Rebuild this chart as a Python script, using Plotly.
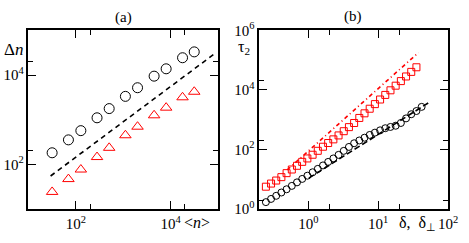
import plotly.graph_objects as go

W, H = 469, 243

# ---------------- panel (a) data ----------------
a_n = [31.7, 70, 128, 281, 507, 1114, 2010, 4500, 8070, 17900, 31600]
a_circ = [182, 354, 569, 1104, 1775, 3333, 5200, 9440, 13800, 24400, 33000]
a_tri = [24.2, 46.9, 76.7, 146, 235, 449, 698, 1256, 1862, 3176, 4226]
a_fit_x = [29.4, 86700]
a_fit_y = [55, 30500]

# ---------------- panel (b) data ----------------
b_delta = [0.248, 0.294, 0.348, 0.413, 0.490, 0.582, 0.690, 0.819, 0.971, 1.153,
           1.367, 1.622, 1.924, 2.283, 2.708, 3.213, 3.811, 4.521, 5.363, 6.362,
           7.547, 8.953, 10.62, 12.60, 14.95, 17.73, 21.04, 24.96, 29.61, 35.12, 41.67]
b_circ = [1.71, 2.19, 2.79, 3.60, 4.62, 6.01, 7.88, 10.3, 13.2, 17.2,
          22.4, 29.2, 38.3, 50.1, 66.0, 90.0, 122, 162, 201, 249,
          308, 368, 440, 518, 572, 628, 777, 1109, 1528, 1959, 2700]
b_sq = [5.64, 7.18, 9.08, 11.8, 16.1, 21.3, 28.4, 38.5, 50.1, 66.7,
        90.5, 124, 165, 219, 297, 412, 564, 777, 1148, 1640,
        2340, 3340, 4770, 6810, 9720, 13900, 19800, 28300, 40400, 57700]
b_red_x = [0.50, 37.6]
b_red_y = [20.6, 180000]
b_blk_x = [1.02, 56.3]
b_blk_y = [11.0, 4140]

a_xticks = [100, 10000]
a_xtext = ["10<sup>2</sup>", "10<sup>4</sup>"]
a_yticks = [100, 10000]
a_ytext = ["10<sup>2</sup>", "10<sup>4</sup>"]
b_xticks = [1, 10, 100]
b_xtext = ["10<sup>0</sup>", "10<sup>1</sup>", "10<sup>2</sup>"]
b_yticks = [1, 100, 1e4, 1e6]
b_ytext = ["10<sup>0</sup>", "10<sup>2</sup>", "10<sup>4</sup>", "10<sup>6</sup>"]

RED = "#ff0000"
FONT = "Liberation Serif, Times New Roman, serif"

fig = go.Figure()

fig.add_trace(go.Scatter(x=a_fit_x, y=a_fit_y, mode="lines",
                         line=dict(color="black", width=1.6, dash="5px,4px"),
                         xaxis="x", yaxis="y", showlegend=False))
fig.add_trace(go.Scatter(x=a_n, y=a_circ, mode="markers",
                         marker=dict(symbol="circle-open", size=10, color="black", line=dict(width=1)),
                         xaxis="x", yaxis="y", showlegend=False))
fig.add_trace(go.Scatter(x=a_n, y=a_tri, mode="markers",
                         marker=dict(symbol="triangle-up-open", size=10, color=RED, line=dict(width=1)),
                         xaxis="x", yaxis="y", showlegend=False))

fig.add_trace(go.Scatter(x=b_red_x, y=b_red_y, mode="lines",
                         line=dict(color=RED, width=1.6, dash="4px,3px,1px,3px"),
                         xaxis="x2", yaxis="y2", showlegend=False))
fig.add_trace(go.Scatter(x=b_blk_x, y=b_blk_y, mode="lines",
                         line=dict(color="black", width=1.6, dash="6px,3px"),
                         xaxis="x2", yaxis="y2", showlegend=False))
fig.add_trace(go.Scatter(x=b_delta[:len(b_sq)], y=b_sq, mode="markers",
                         marker=dict(symbol="square-open", size=7, color=RED, line=dict(width=1)),
                         xaxis="x2", yaxis="y2", showlegend=False))
fig.add_trace(go.Scatter(x=b_delta, y=b_circ, mode="markers",
                         marker=dict(symbol="circle-open", size=7, color="black", line=dict(width=1)),
                         xaxis="x2", yaxis="y2", showlegend=False))


def ax(domain, rng, tv, tt, minor_tv, anchor):
    return dict(type="log", domain=domain, range=rng, anchor=anchor,
                showline=True, linecolor="black", linewidth=1.5, mirror="allticks",
                ticks="inside", ticklen=8, tickwidth=1, tickcolor="black",
                tickvals=tv, ticktext=tt, showgrid=False, zeroline=False,
                ticklabeloverflow="allow",
                tickfont=dict(family=FONT, size=15, color="black"),
                minor=dict(tickvals=minor_tv, ticks="inside", ticklen=5,
                           tickcolor="black", tickwidth=1, showgrid=False))


yd = [1 - 215 / H, 1 - 22 / H]
fig.update_layout(
    width=W, height=H, margin=dict(l=0, r=0, t=0, b=0),
    paper_bgcolor="white", plot_bgcolor="white",
    font=dict(family=FONT, color="black", size=14),
    xaxis=ax([29 / W, 222.7 / W], [1, 5], a_xticks, a_xtext, [200, 20000], "y"),
    yaxis=ax(yd, [1, 5], a_yticks, a_ytext, [200, 20000], "x"),
    xaxis2=ax([265 / W, 458 / W], [-0.699, 2], b_xticks, b_xtext, [2, 20], "y2"),
    yaxis2=ax(yd, [0, 6], b_yticks, b_ytext, [2, 200, 20000], "x2"),
)

def px(x, y):
    return dict(x=x / W, y=1 - y / H, xref="paper", yref="paper")

ann = [
    dict(text="(a)", **px(126, 8), font=dict(family=FONT, size=15, color="black")),
    dict(text="(b)", **px(361, 7), font=dict(family=FONT, size=15, color="black")),
    dict(text="Δ<i>n</i>", **px(14, 43), font=dict(family=FONT, size=17, color="black")),
    dict(text="&lt;<i>n</i>&gt;", **px(201, 230), font=dict(family=FONT, size=16, color="black")),
    dict(text="τ<sub>2</sub>", **px(249, 40), font=dict(family=FONT, size=16, color="black")),
    dict(text="δ,&nbsp; δ<sub>⊥</sub>", **px(427, 231), font=dict(family=FONT, size=16, color="black")),
]
for a in ann:
    a.update(showarrow=False, xanchor="center", yanchor="middle")
fig.update_layout(annotations=ann)

fig.write_html("out.html", config={"displayModeBar": False},
               post_script="document.body.style.margin='0';document.body.style.overflow='hidden';")
